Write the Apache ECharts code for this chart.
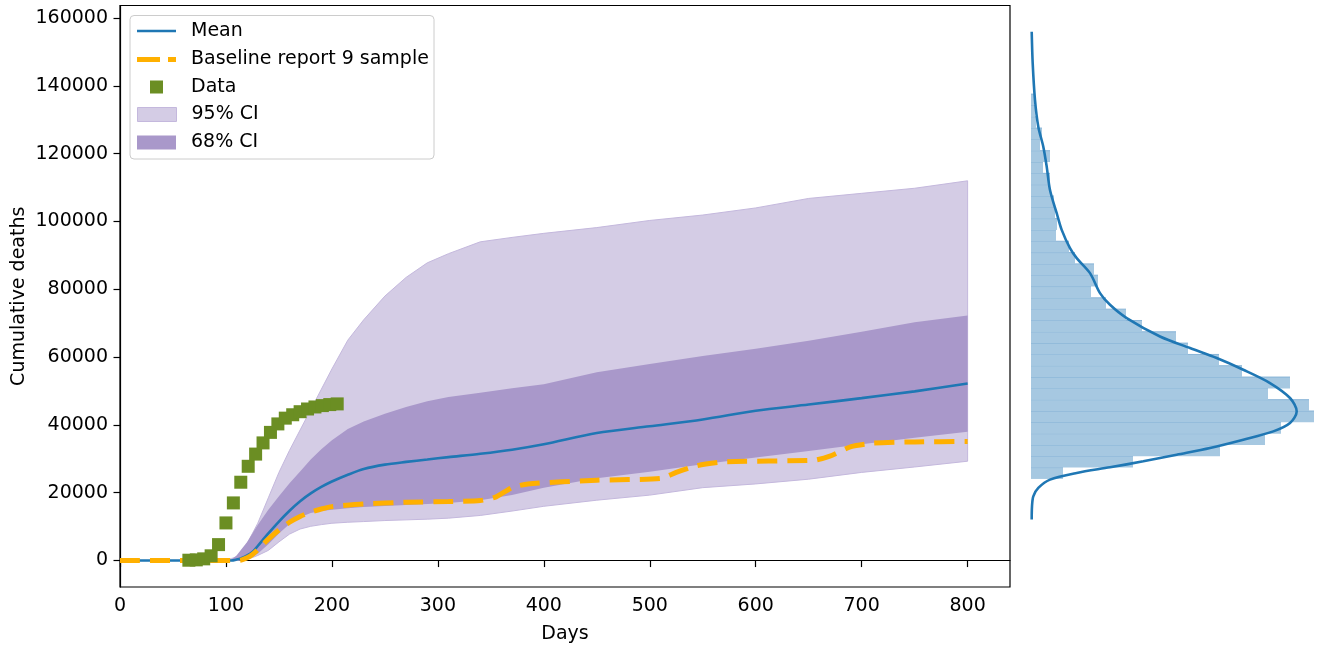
<!DOCTYPE html>
<html>
<head>
<meta charset="utf-8">
<title>Cumulative deaths</title>
<script src="https://cdn.jsdelivr.net/npm/echarts@6/dist/echarts.min.js"></script>
<style>
html, body { margin: 0; padding: 0; background: #fff; }
#main { width: 1325px; height: 645px; }
</style>
</head>
<body>
<div id="main"></div>
<script>
// day grid shared by the mean and the confidence bands
var days = [0, 100, 105, 110, 115, 120, 125, 130, 140, 150, 160, 170, 180, 190, 200, 215,
    230, 250, 270, 290, 310, 340, 370, 400, 450, 500, 550, 600, 650, 700, 750, 800];
var meanDeaths = [0, 0, 0, 300, 800, 1500, 2500, 4300, 8000, 11500, 14700, 17500, 19800, 21700, 23300, 25300,
    27000, 28300, 29100, 29800, 30500, 31500, 32700, 34300, 37600, 39600, 41600, 44200, 46000, 47900, 49900, 52200];
var ci68Low = [0, 0, 0, 0, 300, 800, 1300, 2000, 4800, 8000, 10800, 12800, 14000, 14600, 15000, 15400,
    15800, 16100, 16400, 16700, 17000, 17800, 19300, 21500, 24300, 26200, 28400, 30400, 32300, 34300, 36200, 38000];
var ci68High = [0, 0, 300, 1500, 3500, 5500, 8000, 10500, 15000, 19000, 22800, 26300, 29800, 32800, 35500, 38800,
    41000, 43300, 45300, 47000, 48200, 49500, 50800, 52000, 55500, 58000, 60300, 62500, 64800, 67500, 70300, 72300];
var ci95Low = [0, 0, 0, 0, 200, 500, 900, 1500, 3000, 5500, 7800, 9300, 10100, 10600, 11000, 11300,
    11500, 11800, 12000, 12200, 12500, 13300, 14600, 16000, 17800, 19300, 21500, 22600, 24000, 26000, 27600, 29300];
var ci95High = [0, 0, 600, 1000, 2500, 5000, 8000, 11000, 18500, 26000, 32500, 38500, 44500, 50500, 56500, 65000,
    71000, 78000, 83500, 87800, 90500, 94000, 95300, 96500, 98200, 100300, 101900, 104000, 106800, 108300, 109800, 112000];

// baseline report 9 sample
var baselineDays = [0, 110, 115, 120, 125, 130, 140, 150, 160, 170, 180, 190, 200, 230, 270, 310, 340, 355,
    370, 385, 450, 510, 525, 545, 570, 655, 670, 690, 710, 750, 800];
var baselineDeaths = [0, 0, 200, 800, 1800, 3200, 6300, 9000, 11300, 13000, 14300, 15200, 15900, 16700, 17200, 17400, 17700, 18800,
    21500, 22600, 23700, 24200, 26000, 28000, 29100, 29600, 30800, 33600, 34600, 35000, 35100];

// observed data (weekly)
var dataDays = [65, 72, 79, 86, 93, 100, 107, 114, 121, 128, 135, 142, 149, 156, 163, 170, 177, 184, 191, 198, 205];
var dataDeaths = [100, 200, 500, 1400, 4700, 11100, 17000, 23100, 27800, 31400, 34700, 37800, 40300, 42000,
    43000, 43900, 44700, 45300, 45700, 46000, 46200];

// marginal histogram of final deaths (bins from histStart, each histWidth wide)
var histStart = 24070;
var histWidth = 3338;
var histCounts = [32, 102, 189, 234, 250, 283, 278, 237, 259, 211, 188, 157, 145, 111, 95, 75, 60, 67,
    63, 44, 38, 25, 26, 24, 23, 19, 19, 12, 19, 9, 11, 5, 4, 3];

// kernel density estimate drawn over the histogram
var kdeDeaths = [155950, 146640, 135830, 127960, 122070, 116180, 109310, 102450, 97530, 92130, 89190, 84770,
    78870, 75430, 71510, 66090, 62670, 59720, 56280, 52360, 47940, 43990, 40570, 38100, 35650, 33210,
    31230, 29260, 27490, 25840, 23870, 21420, 18950, 16000, 12080];
var kdeDensity = [0.7, 1.7, 4, 7.3, 12.3, 15.7, 19, 25.7, 30.7, 39, 45.7, 59, 69, 79, 95.7, 129, 159, 185.7,
    212.3, 239, 259, 265.7, 259, 242.3, 212.3, 179, 145.7, 112.3, 79, 45.7, 19, 7.3, 2.3, 1, 0.7];

var yTicks = [0, 20000, 40000, 60000, 80000, 100000, 120000, 140000, 160000];
var xTicks = [0, 100, 200, 300, 400, 500, 600, 700, 800];

var FONT = 'DejaVu Sans';
var FS = 19;

function pairs(xs, ys) {
    return xs.map(function (x, i) { return [x, ys[i]]; });
}

// one polygon between a low and a high curve
function bandRenderer(low, high, fill, stroke) {
    return function (params, api) {
        var pts = [];
        for (var i = 0; i < days.length; i++) pts.push(api.coord([days[i], high[i]]));
        for (var j = days.length - 1; j >= 0; j--) pts.push(api.coord([days[j], low[j]]));
        return {
            type: 'polygon',
            shape: { points: pts },
            style: { fill: fill, stroke: stroke, lineWidth: stroke ? 1 : 0 }
        };
    };
}

function renderHistBar(params, api) {
    var lo = api.value(0), hi = api.value(1), c = api.value(2);
    var p0 = api.coord([0, hi]);
    var p1 = api.coord([c, lo]);
    return {
        type: 'group',
        children: [
            { type: 'rect', shape: { x: p0[0], y: p0[1], width: p1[0] - p0[0], height: p1[1] - p0[1] },
              style: { fill: '#a6c8e1' } },
            { type: 'line', shape: { x1: p0[0], y1: p0[1], x2: p1[0], y2: p0[1] },
              style: { stroke: '#86b3d6', lineWidth: 1 } }
        ]
    };
}

function legendRow(name, top, left, w, h, icon, color, pad, border) {
    var item = { name: name, icon: icon, itemStyle: { color: color } };
    if (border) { item.itemStyle.borderColor = border; item.itemStyle.borderWidth = 1; }
    return {
        orient: 'vertical',
        left: left,
        top: top,
        padding: 0,
        itemWidth: w,
        itemHeight: h,
        selectedMode: false,
        symbolKeepAspect: false,
        textStyle: { fontFamily: FONT, fontSize: FS, color: '#000', padding: [0, 0, 0, pad] },
        data: [item]
    };
}

function MainChart() {
    var myChart = echarts.init(document.getElementById('main'), null, { renderer: 'canvas' });

    var histData = histCounts.map(function (c, k) {
        return [histStart + k * histWidth, histStart + (k + 1) * histWidth, c];
    });

    var option = {
        animation: false,
        backgroundColor: '#fff',
        graphic: [{
            type: 'rect',
            z: 3,
            shape: { x: 130, y: 15.5, width: 304, height: 143.5, r: 4 },
            style: { fill: 'rgba(255,255,255,0.85)', stroke: '#cccccc', lineWidth: 1 }
        }],
        legend: [
            legendRow('Mean', 21.5, 137, 39, 2.6, 'rect', '#1f77b4', 10),
            legendRow('Baseline report 9 sample', 50, 137, 39, 5,
                'path://M0,0H23V5H0Z M31,0H39V5H31Z', '#ffb000', 10),
            legendRow('Data', 77.5, 150, 13, 13, 'rect', '#6b8e23', 23),
            legendRow('95% CI', 105, 137, 39, 14, 'rect', '#d4cce5', 10, '#c4b8dd'),
            legendRow('68% CI', 133, 137, 39, 14, 'rect', '#a998ca', 10)
        ],
        grid: [
            { left: 120, right: 315, top: 5.5, bottom: 58, show: true, borderColor: '#000', borderWidth: 1.2,
              outerBoundsMode: 'none' },
            { left: 1031, right: 10, top: 5.5, bottom: 58, outerBoundsMode: 'none' }
        ],
        xAxis: [
            {
                type: 'value', gridIndex: 0, min: 0, max: 840,
                name: 'Days', nameLocation: 'middle', nameGap: 38, nameMoveOverlap: false,
                nameTextStyle: { fontFamily: FONT, fontSize: FS, color: '#000' },
                axisLine: { lineStyle: { color: '#000', width: 1.2 } },
                axisTick: { length: 6.5, lineStyle: { color: '#000', width: 1.2 }, customValues: xTicks },
                axisLabel: { margin: 10, fontFamily: FONT, fontSize: FS, color: '#000', customValues: xTicks },
                splitLine: { show: false }
            },
            {
                type: 'value', gridIndex: 1, min: 0, max: 284, show: false
            }
        ],
        yAxis: [
            {
                type: 'value', gridIndex: 0, min: -7800, max: 163700,
                name: 'Cumulative deaths', nameLocation: 'middle', nameGap: 91, nameMoveOverlap: false,
                nameTextStyle: { fontFamily: FONT, fontSize: FS, color: '#000' },
                axisLine: { lineStyle: { color: '#000', width: 1.2 } },
                axisTick: { length: 6.5, lineStyle: { color: '#000', width: 1.2 }, customValues: yTicks },
                axisLabel: {
                    margin: 12, fontFamily: FONT, fontSize: FS, color: '#000', customValues: yTicks,
                    formatter: function (v) { return String(v); }
                },
                splitLine: { show: false }
            },
            {
                type: 'value', gridIndex: 1, min: -7800, max: 163700, show: false
            }
        ],
        series: [
            {
                name: '95% CI', type: 'custom', xAxisIndex: 0, yAxisIndex: 0, z: 1,
                itemStyle: { color: '#d4cce5' },
                renderItem: bandRenderer(ci95Low, ci95High, '#d4cce5', '#c4b8dd'),
                data: [[0, 0]]
            },
            {
                name: '68% CI', type: 'custom', xAxisIndex: 0, yAxisIndex: 0, z: 1,
                itemStyle: { color: '#a998ca' },
                renderItem: bandRenderer(ci68Low, ci68High, '#a998ca', null),
                data: [[0, 0]]
            },
            {
                name: 'Mean', type: 'line', xAxisIndex: 0, yAxisIndex: 0, z: 2,
                smooth: 0.3, symbol: 'none',
                lineStyle: { color: '#1f77b4', width: 2.6 },
                itemStyle: { color: '#1f77b4' },
                data: pairs(days, meanDeaths)
            },
            {
                name: 'Baseline report 9 sample', type: 'line', xAxisIndex: 0, yAxisIndex: 0, z: 3,
                smooth: 0.2, symbol: 'none',
                lineStyle: { color: '#ffb000', width: 5, type: [20, 10] },
                itemStyle: { color: '#ffb000' },
                data: pairs(baselineDays, baselineDeaths)
            },
            {
                name: 'Data', type: 'scatter', xAxisIndex: 0, yAxisIndex: 0, z: 4,
                symbol: 'rect', symbolSize: 13,
                itemStyle: { color: '#6b8e23', opacity: 1 },
                data: pairs(dataDays, dataDeaths)
            },
            {
                name: 'hist', type: 'custom', xAxisIndex: 1, yAxisIndex: 1,
                renderItem: renderHistBar,
                encode: { x: 2, y: [0, 1] },
                data: histData
            },
            {
                name: 'kde', type: 'line', xAxisIndex: 1, yAxisIndex: 1, z: 3,
                smooth: 0.3, symbol: 'none',
                lineStyle: { color: '#1f77b4', width: 2.6 },
                data: pairs(kdeDensity, kdeDeaths)
            }
        ]
    };

    myChart.setOption(option, true);
    return myChart;
}

window.onload = function () {
    var mainChart = MainChart();
    window.onresize = function () {
        mainChart.resize();
    };
};
</script>
</body>
</html>
